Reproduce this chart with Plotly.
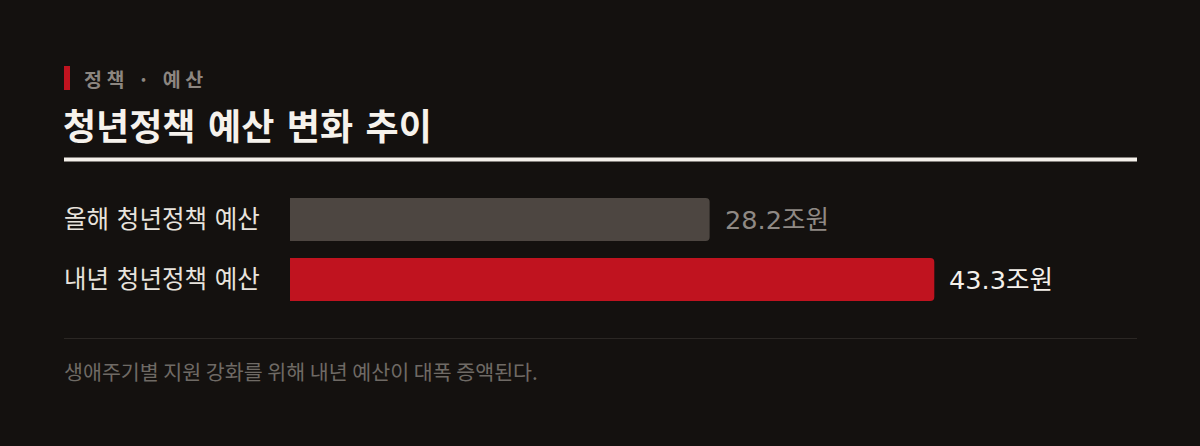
import plotly.graph_objects as go

# ---- data ----
categories = ["올해 청년정책 예산", "내년 청년정책 예산"]
values = [28.2, 43.3]
value_labels = ["28.2조원", "43.3조원"]
kicker = "정책 · 예산"
title = "청년정책 예산 변화 추이"
footnote = "생애주기별 지원 강화를 위해 내년 예산이 대폭 증액된다."

# ---- style ----
W, H = 1200, 446
BG = "#14110f"
BAR_COLORS = ["#4d4641", "#c0131f"]
LABEL_COLORS = ["#8f8984", "#f4f0ea"]
FONT = "DejaVu Sans, Noto Sans CJK KR"
CJK = "Noto Sans CJK KR"

def px_x(p):
    return p / W

def px_y(p):
    return 1 - p / H

PLOT_L, PLOT_R = 290, 1137
PLOT_T, PLOT_B = 189.5, 309.5
PX_PER_UNIT = 14.88
x_max = (PLOT_R - PLOT_L) / PX_PER_UNIT

fig = go.Figure()
fig.add_trace(go.Bar(
    x=values,
    y=categories,
    orientation="h",
    marker=dict(color=BAR_COLORS, line=dict(width=0)),
    width=0.717,
    hoverinfo="skip",
))

annotations = []
# value labels
for c, v, lab, col in zip(categories, values, value_labels, LABEL_COLORS):
    annotations.append(dict(
        x=v, y=c, xref="x", yref="y",
        text=lab, showarrow=False, xanchor="left", yanchor="middle",
        xshift=13, font=dict(family=FONT, size=25.6, color=col),
    ))
# row labels
for c in categories:
    annotations.append(dict(
        x=px_x(62), y=c, xref="paper", yref="y",
        text=c, showarrow=False, xanchor="left", yanchor="middle",
        font=dict(family=FONT, size=24.5, color="#e8e3dd"),
    ))
# kicker
annotations.append(dict(
    x=px_x(82), y=px_y(78), xref="paper", yref="paper",
    text="<b><span style='letter-spacing:4.5px'>" + kicker + "</span></b>",
    showarrow=False, xanchor="left", yanchor="middle",
    font=dict(family=CJK, size=19.5, color="#8c8680"),
))
# title
annotations.append(dict(
    x=px_x(61), y=px_y(128), xref="paper", yref="paper",
    text="<b>" + title + "</b>", showarrow=False, xanchor="left", yanchor="middle",
    font=dict(family=FONT, size=36, color="#f6f2ec"),
))
# footnote
annotations.append(dict(
    x=px_x(62), y=px_y(371), xref="paper", yref="paper",
    text=footnote, showarrow=False, xanchor="left", yanchor="middle",
    font=dict(family=CJK, size=20.6, color="#6f6a65"),
))

shapes = [
    dict(type="rect", xref="paper", yref="paper",
         x0=px_x(64), x1=px_x(70), y0=px_y(66), y1=px_y(90),
         fillcolor="#c0131f", line=dict(width=0), layer="above"),
    dict(type="rect", xref="paper", yref="paper",
         x0=px_x(64), x1=px_x(1137), y0=px_y(157.5), y1=px_y(161.5),
         fillcolor="#f4f0ea", line=dict(width=0), layer="above"),
    dict(type="rect", xref="paper", yref="paper",
         x0=px_x(64), x1=px_x(1137), y0=px_y(338), y1=px_y(339),
         fillcolor="#2b2724", line=dict(width=0), layer="above"),
]

fig.update_layout(
    width=W, height=H,
    margin=dict(l=0, r=0, t=0, b=0),
    paper_bgcolor=BG, plot_bgcolor=BG,
    showlegend=False,
    barcornerradius=4,
    xaxis=dict(domain=[px_x(PLOT_L), px_x(PLOT_R)], range=[0, x_max],
               visible=False, fixedrange=True),
    yaxis=dict(domain=[1 - PLOT_B / H, 1 - PLOT_T / H], range=[1.5, -0.5],
               visible=False, fixedrange=True),
    annotations=annotations,
    shapes=shapes,
    font=dict(family=FONT),
)

fig.write_html(
    "out.html",
    config={"displayModeBar": False},
    post_script="document.body.style.margin='0';document.body.style.background='" + BG + "';",
)
